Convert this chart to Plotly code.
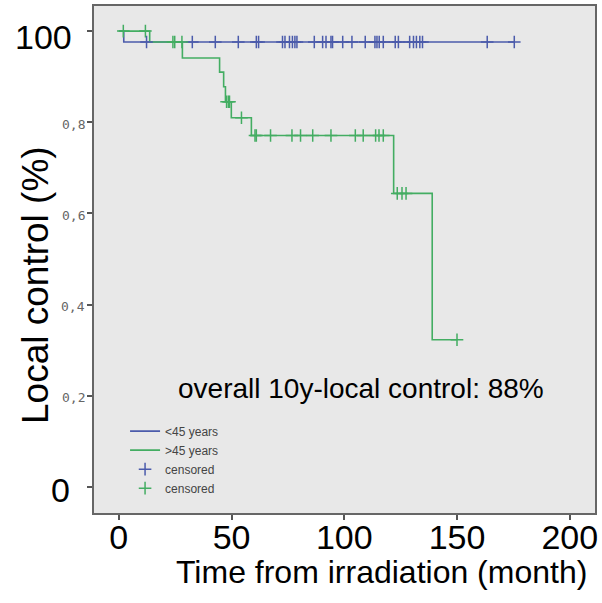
import plotly.graph_objects as go

# ---- data ----
blue_name = "<45 years"
green_name = ">45 years"

blue_times = [0, 2.2, 175.4]
blue_surv = [1.0, 0.976, 0.976]
blue_censor = [12.3, 32.6, 42.8, 53.0, 61.0, 62.0, 72.6, 73.7, 75.7, 77.0, 78.1, 79.0,
               86.7, 90.4, 91.9, 94.1, 94.8, 99.3, 103.4, 109.3, 113.6, 114.5, 115.5,
               117.3, 122.6, 124.0, 129.0, 130.7, 132.0, 133.5, 134.7, 163.4, 175.4]

green_times = [0, 13.7, 28.2, 44.7, 46.5, 47.3, 49.9, 58.8, 121.9, 139.0, 150.0]
green_surv = [1.0, 0.976, 0.941, 0.910, 0.878, 0.845, 0.810, 0.771, 0.644, 0.323, 0.323]
green_censor = [2.0, 11.8, 24.0, 24.8, 28.0, 47.8, 48.6, 49.1, 54.4, 60.4, 61.0, 67.3,
                76.8, 80.6, 86.0, 94.1, 104.9, 108.4, 113.9, 115.4, 117.3, 123.5,
                125.6, 127.4, 150.0]

x_ticks = [0, 50, 100, 150, 200]
y_ticks = [0, 0.2, 0.4, 0.6, 0.8, 1.0]
y_tick_labels = ["0", "0,2", "0,4", "0,6", "0,8", "100"]

note_text = "overall 10y-local control: 88%"
x_title = "Time from irradiation (month)"
y_title = "Local control (%)"

BLUE = "#4b5bab"
GREEN = "#43ad62"


def step_value(times, surv, t):
    v = surv[0]
    for tt, s in zip(times, surv):
        if tt <= t:
            v = s
    return v


fig = go.Figure()
fig.add_trace(go.Scatter(x=blue_times, y=blue_surv, mode="lines", line_shape="hv",
                         line=dict(color=BLUE, width=1.6), name=blue_name))
fig.add_trace(go.Scatter(x=green_times, y=green_surv, mode="lines", line_shape="hv",
                         line=dict(color=GREEN, width=1.6), name=green_name))
fig.add_trace(go.Scatter(x=blue_censor,
                         y=[step_value(blue_times, blue_surv, t) for t in blue_censor],
                         mode="markers", name="censored",
                         marker=dict(symbol="cross-thin-open", size=9, color=BLUE,
                                     line=dict(color=BLUE, width=1.5))))
fig.add_trace(go.Scatter(x=green_censor,
                         y=[step_value(green_times, green_surv, t) for t in green_censor],
                         mode="markers", name="censored",
                         marker=dict(symbol="cross-thin-open", size=9, color=GREEN,
                                     line=dict(color=GREEN, width=1.5))))

fig.update_layout(
    width=602, height=603,
    margin=dict(l=94, r=6, t=4, b=90),
    paper_bgcolor="white", plot_bgcolor="#e8e8e8",
    font=dict(family="Liberation Sans, Arial, sans-serif", color="black"),
    showlegend=True,
    legend=dict(x=0.062, y=0.19, xanchor="left", yanchor="top",
                bgcolor="rgba(0,0,0,0)", font=dict(size=12, color="#444"),
                tracegroupgap=0, itemwidth=30),
)

fig.update_xaxes(range=[-11, 211.2], tickvals=x_ticks, ticks="outside", ticklen=5,
                 tickwidth=2, tickcolor="#555", showline=True, linecolor="#666",
                 linewidth=2, mirror=True, showgrid=False, zeroline=False,
                 ticklabelstandoff=-12,
                 tickfont=dict(size=34, color="black"))
fig.update_yaxes(range=[-0.057, 1.055], tickvals=y_ticks, showticklabels=False,
                 ticks="outside", ticklen=5, tickwidth=2, tickcolor="#555",
                 showline=True, linecolor="#666", linewidth=2, mirror=True,
                 showgrid=False, zeroline=False)

# axis titles (placed as in the reference, which is off-centre)
fig.add_annotation(x=0.574, y=-0.116, xref="paper", yref="paper", text=x_title,
                   showarrow=False, xanchor="center", yanchor="middle",
                   font=dict(size=32, color="black"))
fig.add_annotation(x=-0.1155, y=0.45, xref="paper", yref="paper", text=y_title,
                   showarrow=False, textangle=-90, xanchor="center", yanchor="middle",
                   font=dict(size=37, color="black"))

# y tick labels (mixed sizes as in the reference)
for v, lab in zip(y_ticks, y_tick_labels):
    big = lab in ("0", "100")
    fig.add_annotation(x=0, xref="paper", y=v, yref="y", text=lab, showarrow=False,
                       xanchor="right", yanchor="middle",
                       xshift=(-20 if lab == "100" else (-22 if lab == "0" else -7)),
                       yshift=(-6 if lab == "100" else (-3 if lab == "0" else -2)),
                       font=(dict(size=34, color="black", family="Liberation Sans, Arial")
                             if big else dict(size=13, color="#666", family="DejaVu Sans Mono")))

fig.add_annotation(x=107.3, y=0.216, xref="x", yref="y", text=note_text, showarrow=False,
                   font=dict(size=28, color="black"))

fig.write_html("out.html", config={"displayModeBar": False},
               post_script="document.body.style.margin='0';")
